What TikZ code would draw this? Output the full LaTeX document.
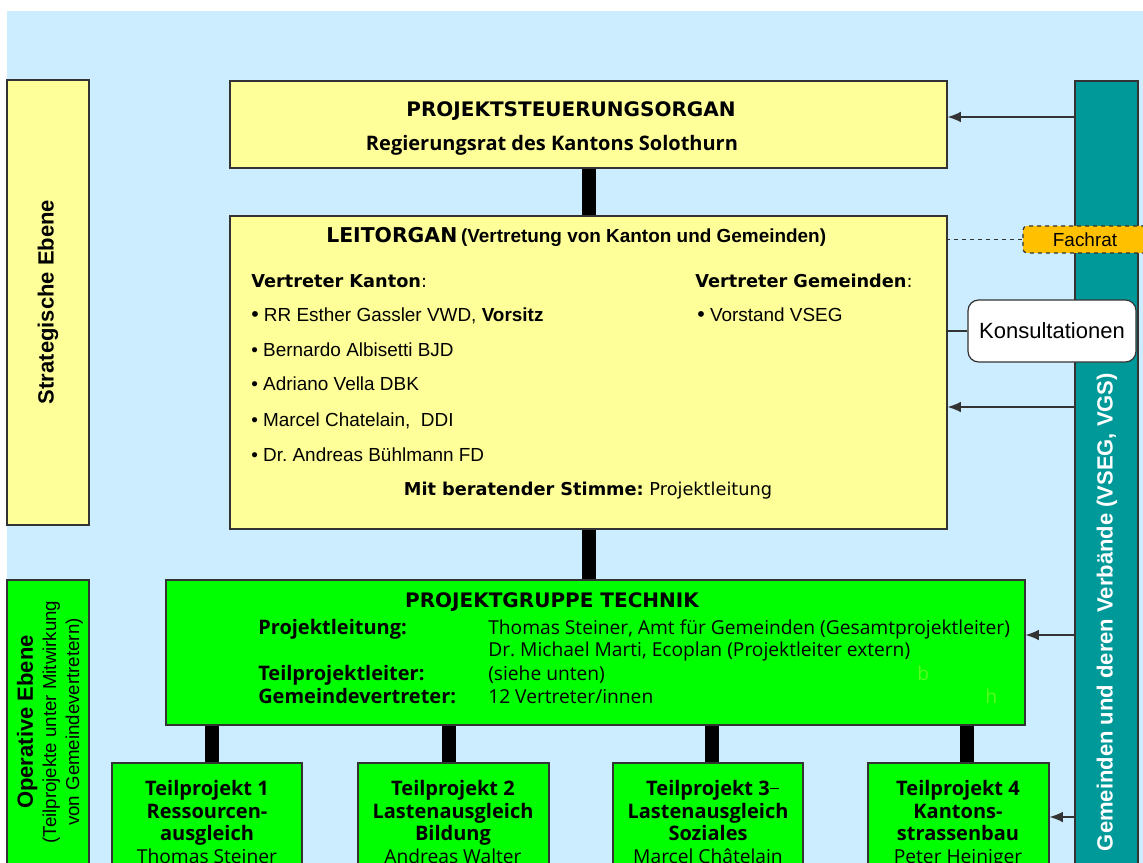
\documentclass[tikz,border=0pt]{standalone}
\usepackage{fontspec}
\setmainfont{Liberation Sans}
\newfontfamily\verd{DejaVu Sans}
\newfontfamily\frut{Open Sans}
\usetikzlibrary{fit,arrows.meta}
\definecolor{hellblau}{HTML}{CCECFF}
\definecolor{gelb}{HTML}{FFFF99}
\definecolor{gruen}{HTML}{00FF00}
\definecolor{petrol}{HTML}{009999}
\definecolor{fachorange}{HTML}{FFC000}
\definecolor{blassgruen}{HTML}{55FF22}
\definecolor{rand}{HTML}{333333}
\newcommand\tpname{\mdseries\fontsize{14.4}{17}\selectfont}
\tikzset{
  kasten/.style={draw=rand,line width=0.9pt,inner sep=0pt},
  balken/.style={line width=10.5pt,black},
  pfeil/.style={draw=rand,line width=0.9pt,-{Latex[length=10pt,width=8pt]}},
  zeile/.style={anchor=base west,inner sep=0pt},
  liste/.style={zeile,font=\fontsize{14.2}{17}\selectfont},
  titel/.style={inner sep=0pt,anchor=base,font=\verd\bfseries\fontsize{15}{17}\selectfont},
  frutfett/.style={inner sep=0pt,font=\frut\bfseries\fontsize{15}{17}\selectfont},
  frutnorm/.style={zeile,font=\frut\fontsize{14.4}{17}\selectfont}
}
\begin{document}
\frenchspacing
\begin{tikzpicture}[x=0.75pt,y=-0.75pt]
\useasboundingbox (0,0) rectangle (1143,863);
\clip (0,0) rectangle (1143,863);
\fill[hellblau] (7,11) rectangle (1143,863);
% Ebenen links
\node[kasten,fill=gelb,fit={(7,80) (89,525)}] (strat) {};
\node[rotate=90,inner sep=0pt,font=\bfseries\fontsize{16.5}{20}\selectfont] (strattext) at (48,302) {Strategische Ebene};
\node[kasten,fill=gruen,fit={(7,580) (89,900)}] (oper) {};
\node[rotate=90,inner sep=0pt,align=center,font=\fontsize{14}{17.3}\selectfont] (opertext) at (50,722)
  {{\bfseries\fontsize{16.5}{17.3}\selectfont Operative Ebene}\\(Teilprojekte unter Mitwirkung\\von Gemeindevertretern)};
% Gemeinden rechts
\node[kasten,fill=petrol,fit={(1075,81) (1138,900)}] (verb) {};
\node[rotate=90,inner sep=0pt,text=white,font=\bfseries\fontsize{16.5}{20}\selectfont] (verbtext) at (1107,612) {Gemeinden und deren Verbände (VSEG, VGS)};
% Projektsteuerung
\node[kasten,fill=gelb,fit={(230,81) (947,168)}] (steuer) {};
\node[titel] (steuertitel) at (571,117) {PROJEKTSTEUERUNGSORGAN};
\node[frutfett,anchor=base] (steuerrat) at (552,151) {Regierungsrat des Kantons Solothurn};
% Leitorgan
\node[kasten,fill=gelb,fit={(230,216) (947,529)}] (leit) {};
\node[zeile] (leittitel) at (326,243) {{\verd\bfseries\fontsize{15.3}{18}\selectfont LEITORGAN} {\bfseries\fontsize{14.2}{17}\selectfont (Vertretung von Kanton und Gemeinden)}};
\node[zeile,font=\verd\fontsize{13.3}{16}\selectfont] (kanton) at (251,287) {\textbf{Vertreter Kanton}:};
\node[liste] (k1) at (251,321) {{\fontsize{16}{17}\selectfont •} RR Esther Gassler VWD, \textbf{Vorsitz}};
\node[liste] (k2) at (251,356) {• Bernardo Albisetti BJD};
\node[liste] (k3) at (251,390) {• Adriano Vella DBK};
\node[liste] (k4) at (251,426) {• Marcel Chatelain,\ \ DDI};
\node[liste] (k5) at (251,461) {• Dr. Andreas Bühlmann FD};
\node[zeile,font=\verd\fontsize{13.3}{16}\selectfont] (gemeinden) at (695,287) {\textbf{Vertreter Gemeinden}:};
\node[liste] (g1) at (697,321) {{\fontsize{16}{17}\selectfont •} Vorstand VSEG};
\node[zeile,anchor=base,font=\verd\fontsize{13.3}{16}\selectfont] (stimme) at (588,495) {\textbf{Mit beratender Stimme:} Projektleitung};
% Fachrat und Konsultationen
\node[kasten,fill=fachorange,dashed,rounded corners=3pt,fit={(1023,226) (1165,253)}] (fachrat) {};
\node[inner sep=0pt,font=\fontsize{14.2}{17}\selectfont] (fachtext) at (1085,240) {Fachrat};
\node[kasten,fill=white,rounded corners=8pt,fit={(968,300) (1136,362)}] (kons) {};
\node[inner sep=0pt,font=\fontsize{16.5}{20}\selectfont] (konstext) at (kons.center) {Konsultationen};
\draw[rand,line width=0.9pt,dashed] (fachrat.west) -- (fachrat.west -| leit.east);
\draw[rand,line width=0.9pt] (kons.west) -- (kons.west -| leit.east);
% Projektgruppe
\node[kasten,fill=gruen,fit={(166,580) (1025,725)}] (pgt) {};
\node[titel] (pgttitel) at (552,607) {PROJEKTGRUPPE TECHNIK};
\node[frutnorm,font=\frut\bfseries\fontsize{15}{17}\selectfont] (pl) at (258,634) {Projektleitung:};
\node[frutnorm,font=\frut\bfseries\fontsize{15}{17}\selectfont] (tpl) at (258,680) {Teilprojektleiter:};
\node[frutnorm,font=\frut\bfseries\fontsize{15}{17}\selectfont] (gv) at (258,703) {Gemeindevertreter:};
\node[frutnorm] (pl1) at (488,634) {Thomas Steiner, Amt für Gemeinden (Gesamtprojektleiter)};
\node[frutnorm] (pl2) at (488,656) {Dr. Michael Marti, Ecoplan (Projektleiter extern)};
\node[frutnorm] (tpl1) at (488,680) {(siehe unten)};
\node[frutnorm] (gv1) at (488,703) {12 Vertreter/innen};
\node[frutnorm,text=blassgruen] (rest1) at (917,680) {b};
\node[frutnorm,text=blassgruen] (rest2) at (985,703) {h};
% Teilprojekte
\node[kasten,fill=gruen,fit={(112,763) (302,900)}] (tp1) {};
\node[kasten,fill=gruen,fit={(358,763) (549,900)}] (tp2) {};
\node[kasten,fill=gruen,fit={(613,763) (803,900)}] (tp3) {};
\node[kasten,fill=gruen,fit={(868,763) (1049,900)}] (tp4) {};
\node[frutfett,anchor=north,align=center] (tp1text) at (207,780) {Teilprojekt 1\\Ressourcen-\\ausgleich\\\tpname Thomas Steiner};
\node[frutfett,anchor=north,align=center] (tp2text) at (453,780) {Teilprojekt 2\\Lastenausgleich\\Bildung\\\tpname Andreas Walter};
\node[frutfett,anchor=north,align=center] (tp3text) at (708,780) {Teilprojekt 3\rlap{\rule[0.33em]{0.45em}{0.5pt}}\\Lastenausgleich\\Soziales\\\tpname Marcel Châtelain};
\node[frutfett,anchor=north,align=center] (tp4text) at (958,780) {Teilprojekt 4\\Kantons-\\strassenbau\\\tpname Peter Heiniger};
% Verbindungen
\draw[balken] (steuer.south) -- (leit.north);
\draw[balken] (leit.south) -- (leit.south |- pgt.north);
\coordinate (s1) at (212,0);
\coordinate (s2) at (449,0);
\coordinate (s3) at (712,0);
\coordinate (s4) at (967,0);
\draw[balken] (pgt.south -| s1) -- (tp1.north -| s1);
\draw[balken] (pgt.south -| s2) -- (tp2.north -| s2);
\draw[balken] (pgt.south -| s3) -- (tp3.north -| s3);
\draw[balken] (pgt.south -| s4) -- (tp4.north -| s4);
% Pfeile von den Gemeinden
\coordinate (p1) at (0,117);
\coordinate (p2) at (0,407);
\coordinate (p3) at (0,635);
\coordinate (p4) at (0,817);
\draw[pfeil] (verb.west |- p1) -- (steuer.east |- p1);
\draw[pfeil] (verb.west |- p2) -- (leit.east |- p2);
\draw[pfeil] (verb.west |- p3) -- (pgt.east |- p3);
\draw[pfeil] (verb.west |- p4) -- (tp4.east |- p4);
\end{tikzpicture}
\end{document}
